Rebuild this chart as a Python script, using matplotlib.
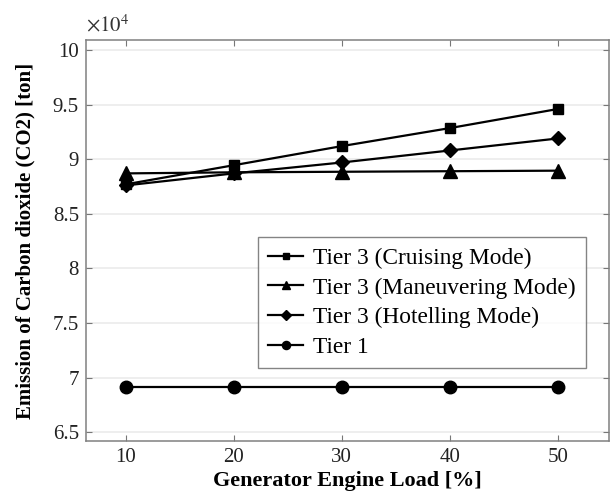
import numpy as np
import matplotlib
matplotlib.use('Agg')
import matplotlib.pyplot as plt
from matplotlib.ticker import FuncFormatter

plt.rcParams['font.family'] = ['Liberation Serif', 'DejaVu Serif']
plt.rcParams['mathtext.fontset'] = 'stix'

# 发电机负载 [%]
load = [10, 20, 30, 40, 50]
# CO2 排放量 [ton]
cruising = [87700, 89450, 91200, 92850, 94600]
maneuvering = [88700, 88800, 88850, 88900, 88950]
hotelling = [87600, 88700, 89700, 90800, 91900]
tier1 = [69100, 69100, 69100, 69100, 69100]

labels = ['Tier 3 (Cruising Mode)', 'Tier 3 (Maneuvering Mode)',
          'Tier 3 (Hotelling Mode)', 'Tier 1']
markers = ['s', '^', 'D', 'o']
msizes = [7.5, 9.5, 7.5, 9]

fig = plt.figure(figsize=(6.13, 4.96), dpi=100)
ax = fig.add_axes([0.140, 0.111, 0.853, 0.808])

for y, lab, m, ms in zip([cruising, maneuvering, hotelling, tier1], labels, markers, msizes):
    ax.plot(load, y, color='black', lw=1.6, marker=m, ms=ms, label=lab)

ax.set_xlim(6.3, 54.7)
ax.set_ylim(64200, 100900)
ax.set_xticks(load)
ax.set_yticks(np.arange(65000, 100001, 5000))
ax.yaxis.set_major_formatter(FuncFormatter(lambda v, p: '%g' % (v / 1e4)))
ax.grid(True, axis='y', color='#ebebeb', lw=1.2)
ax.set_axisbelow(True)
ax.tick_params(direction='in', top=True, right=True, labelsize=15, length=4,
               color='#777777', labelcolor='#222222', pad=5)
for s in ax.spines.values():
    s.set_color('#808080')
    s.set_linewidth(1.1)

ax.set_xlabel('Generator Engine Load [%]', fontsize=16, fontweight='bold', labelpad=3)
ax.set_ylabel('Emission of Carbon dioxide (CO2) [ton]', fontsize=15, fontweight='bold', labelpad=12)
ax.text(0.0, 1.01, r'$\times10^4$', transform=ax.transAxes, fontsize=15, ha='left', va='bottom',
        color='#333333')

leg = ax.legend(loc='upper left', bbox_to_anchor=(0.329, 0.509), fontsize=16.8, frameon=True,
                fancybox=False, edgecolor='#666666', handlelength=1.5, handletextpad=0.4,
                labelspacing=0.36, borderpad=0.45, borderaxespad=0, markerscale=0.65)
leg.get_frame().set_linewidth(1.0)

fig.savefig('out.png', dpi=100)
